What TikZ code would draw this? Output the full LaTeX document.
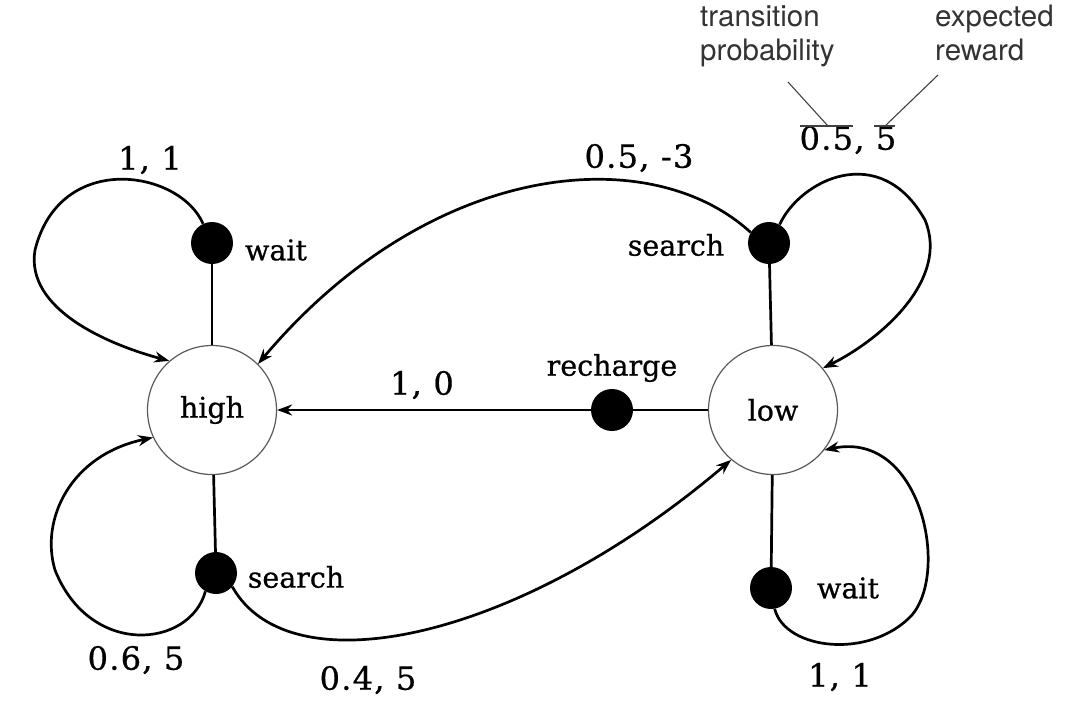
\documentclass[tikz,border=0pt]{standalone}
\usepackage{fontspec}
\setmainfont{DejaVu Serif}
\newfontfamily\lblfont[FakeBold=0.7]{DejaVu Serif}
\newfontfamily\numfont[FakeBold=0.7,LetterSpace=4]{DejaVu Serif}
\newfontfamily\annotfont{TeX Gyre Heros}
\usetikzlibrary{arrows.meta}
\begin{document}
\begin{tikzpicture}[x=1pt,y=-1pt,
  lbl/.style={font=\lblfont\fontsize{28.5}{32}\selectfont, inner sep=0pt},
  num/.style={font=\numfont\fontsize{32}{36}\selectfont, inner sep=0pt},
  state/.style={circle, draw=black!65, line width=1.2pt, minimum size=129pt, inner sep=0pt, lbl},
  act/.style={circle, fill=black, minimum size=42pt, inner sep=0pt},
  edge/.style={line width=2.7pt},
  arr/.style={edge, -{Stealth[length=15pt,width=11pt]}},
  note/.style={font=\annotfont\fontsize{29.5}{34}\selectfont, text=black!80, align=left, inner sep=0pt},
  noteline/.style={line width=1.1pt, black!75}]
\useasboundingbox (0,0) rectangle (1074,713);

% states
\node[state] (high) at (212,410) {high};
\node[state] (low) at (773,410) {low};

% action dots
\node[act] (hw) at (212,243) {};
\node[act] (hs) at (216,573) {};
\node[act] (rc) at (612,410) {};
\node[act] (ls) at (769,243) {};
\node[act] (lw) at (771,588) {};

% action labels
\node[lbl] (hwl) at (276,250) {wait};
\node[lbl] (hsl) at (296,577) {search};
\node[lbl] (rcl) at (612,368) {recharge};
\node[lbl] (lsl) at (676,245) {search};
\node[lbl] (lwl) at (848,588) {wait};

% state-action links
\draw[edge] (high) -- (hw);
\draw[edge] (high) -- (hs);
\draw[edge] (low) -- (ls);
\draw[edge] (low) -- (lw);
\draw[edge] (low) -- (rc);

% transitions
\draw[arr] (rc) -- (high.east);
\draw[arr] (hw.115) .. controls (180,170) and (60,150) .. (35,250)
  .. controls (25,310) and (110,345) .. (high.131);
\draw[arr] (hs.240) .. controls (190,648) and (90,658) .. (55,570)
  .. controls (40,520) and (70,455) .. (high.205);
\draw[arr] (hs.-40) .. controls (290,690) and (520,640) .. (low.230);
\draw[arr] (ls.150) .. controls (650,140) and (430,160) .. (high.45);
\draw[arr] (ls.60) .. controls (800,180) and (880,140) .. (925,220)
  .. controls (950,280) and (880,340) .. (low.40);
\draw[arr] (lw.-80) .. controls (785,650) and (870,660) .. (912,615)
  .. controls (950,570) and (920,430) .. (low.-38);

% transition labels
\node[num] (t1) at (150,160) {1, 1};
\node[num] (t2) at (136,660) {0.6, 5};
\node[num] (t3) at (368,680) {0.4, 5};
\node[num] (t4) at (422,385) {1, 0};
\node[num] (t5) at (639,158) {0.5, -3};
\node[num] (t6) at (848,140) {0.5, 5};
\node[num] (t7) at (840,677) {1, 1};

% annotation
\node[note, anchor=north west] (tp) at (700,5) {transition\\probability};
\node[note, anchor=north west] (er) at (935,5) {expected\\reward};
\coordinate (pa) at (788,82);
\coordinate (pb) at (828,126);
\coordinate (ra) at (938,75);
\coordinate (rb) at (885,126);
\draw[noteline] (pa) -- (pb);
\draw[noteline] (800,126) -- (853,126);
\draw[noteline] (ra) -- (rb);
\draw[noteline] (874,126) -- (895,126);
\end{tikzpicture}
\end{document}
